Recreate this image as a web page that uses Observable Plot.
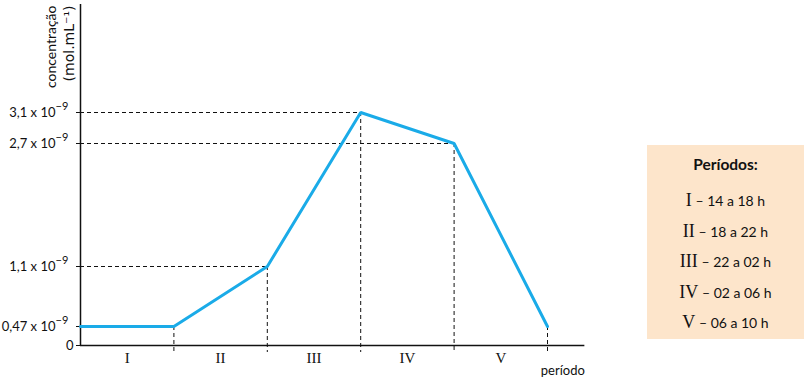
<!DOCTYPE html>
<html>
<head>
<meta charset="utf-8">
<script src="https://cdn.jsdelivr.net/npm/d3@7"></script>
<script src="https://cdn.jsdelivr.net/npm/@observablehq/plot@0.6"></script>
<style>
  html, body { margin: 0; padding: 0; background: #fff; }
  #wrap { position: relative; width: 809px; height: 380px; font-family: Lato, "DejaVu Sans", sans-serif; }
  #legend { position: absolute; left: 647px; top: 145px; width: 157px; height: 194px; background: #fde5cb; color: #111; text-align: center; }
  #legend .title { font-weight: bold; font-size: 15.5px; margin-top: 8px; height: 22px; line-height: 22px; margin-bottom: 10px; }
  #legend .row { font-size: 14px; height: 30.5px; line-height: 30.5px; }
  #legend .num { font-family: "Liberation Serif", "DejaVu Serif", serif; font-size: 18px; }
</style>
</head>
<body>
<div id="wrap"></div>
<script>
// Period boundaries (position index along x) and concentration (×10⁻⁹ mol/mL)
const boundaries = [0, 1, 2, 3, 4, 5];
const concentration = [0.47, 0.47, 1.1, 3.1, 2.7, 0.47];
const periods = ["I", "II", "III", "IV", "V"];
const periodCenters = [0.5, 1.5, 2.5, 3.5, 4.5];
const yTicks = [0, 0.47, 1.1, 2.7, 3.1];
const yTickBase = ["0", "0,47 x 10", "1,1 x 10", "2,7 x 10", "3,1 x 10"];
const yTickExp = ["", "−9", "−9", "−9", "−9"];
const legendTitle = "Períodos:";
const legendRanges = ["14 a 18 h", "18 a 22 h", "22 a 02 h", "02 a 06 h", "06 a 10 h"];

const pts = boundaries.map((b, i) => ({x: b, y: concentration[i]}));
const refPts = pts.filter((d, i) => i >= 2 && i <= 4);
const vertPts = pts.filter((d, i) => i >= 1);
const ticks = yTicks.map((v, i) => ({v, base: yTickBase[i], exp: yTickExp[i]}));
const ticksExp = ticks.filter(d => d.exp);
const ticksPlain = ticks.filter(d => !d.exp);
const xEnd = 5.4, yTop = 4.5;

const chart = Plot.plot({
  width: 809,
  height: 380,
  marginLeft: 80, marginRight: 225, marginTop: 4, marginBottom: 35,
  x: {type: "linear", domain: [0, 5], range: [80, 547], axis: null},
  y: {type: "linear", domain: [0, 0.47, 1.1, 2.7, 3.1, yTop], range: [345, 326, 266, 143, 112, 4], axis: null},
  style: {fontFamily: "Lato, 'DejaVu Sans', sans-serif", fontSize: "13px", color: "#111"},
  marks: [
    // dashed reference lines
    Plot.ruleY(refPts, {y: "y", x1: 0, x2: "x", stroke: "#111", strokeDasharray: "4,3", strokeWidth: 1}),
    Plot.ruleX(vertPts, {x: "x", y1: "y", y2: 0, insetBottom: -7, stroke: "#111", strokeDasharray: "4,3", strokeWidth: 1}),
    // axes lines
    Plot.ruleX([0], {y1: 0, y2: yTop, stroke: "#111", strokeWidth: 1.5}),
    Plot.ruleY([0], {x1: 0, x2: xEnd, stroke: "#111", strokeWidth: 1.5}),
    // y ticks and labels
    Plot.ruleY(ticks, {y: "v", x1: 0, x2: 0, insetLeft: -4, stroke: "#111", strokeWidth: 1}),
    Plot.text(ticksExp, {x: 0, y: "v", text: "base", textAnchor: "end", dx: -25, fontSize: 13, fill: "#111"}),
    Plot.text(ticksExp, {x: 0, y: "v", text: "exp", textAnchor: "start", dx: -25, dy: -6, fontSize: 11, fill: "#111"}),
    Plot.text(ticksPlain, {x: 0, y: "v", text: "base", textAnchor: "end", dx: -7, fontSize: 13, fill: "#111"}),
    // the data line
    Plot.line(pts, {x: "x", y: "y", stroke: "#1aabe8", strokeWidth: 3, strokeLinejoin: "miter"}),
    // period labels
    Plot.text(periods, {x: (d, i) => periodCenters[i], y: 0, dy: 13, fontFamily: "'Liberation Serif', serif", fontSize: 15, fill: "#111"}),
    Plot.text(["período"], {x: xEnd, y: 0, dy: 25, textAnchor: "end", fontSize: 13, fill: "#111"}),
    // y axis title
    Plot.text(["concentração"], {frameAnchor: "top-left", rotate: -90, textAnchor: "end", dx: -34, dy: 1, fontSize: 14, fill: "#111"}),
    Plot.text(["(mol.mL⁻¹)"], {frameAnchor: "top-left", rotate: -90, textAnchor: "end", dx: -16, dy: 1, fontSize: 14, fontFamily: "'DejaVu Sans', sans-serif", fill: "#111"})
  ]
});

const wrap = document.getElementById("wrap");
wrap.appendChild(chart);
chart.style.position = "absolute";
chart.style.left = "0px";
chart.style.top = "0px";

const legend = document.createElement("div");
legend.id = "legend";
const t = document.createElement("div");
t.className = "title";
t.textContent = legendTitle;
legend.appendChild(t);
periods.forEach((p, i) => {
  const r = document.createElement("div");
  r.className = "row";
  const n = document.createElement("span");
  n.className = "num";
  n.textContent = p;
  r.appendChild(n);
  r.appendChild(document.createTextNode(" – " + legendRanges[i]));
  legend.appendChild(r);
});
wrap.appendChild(legend);
</script>
</body>
</html>
